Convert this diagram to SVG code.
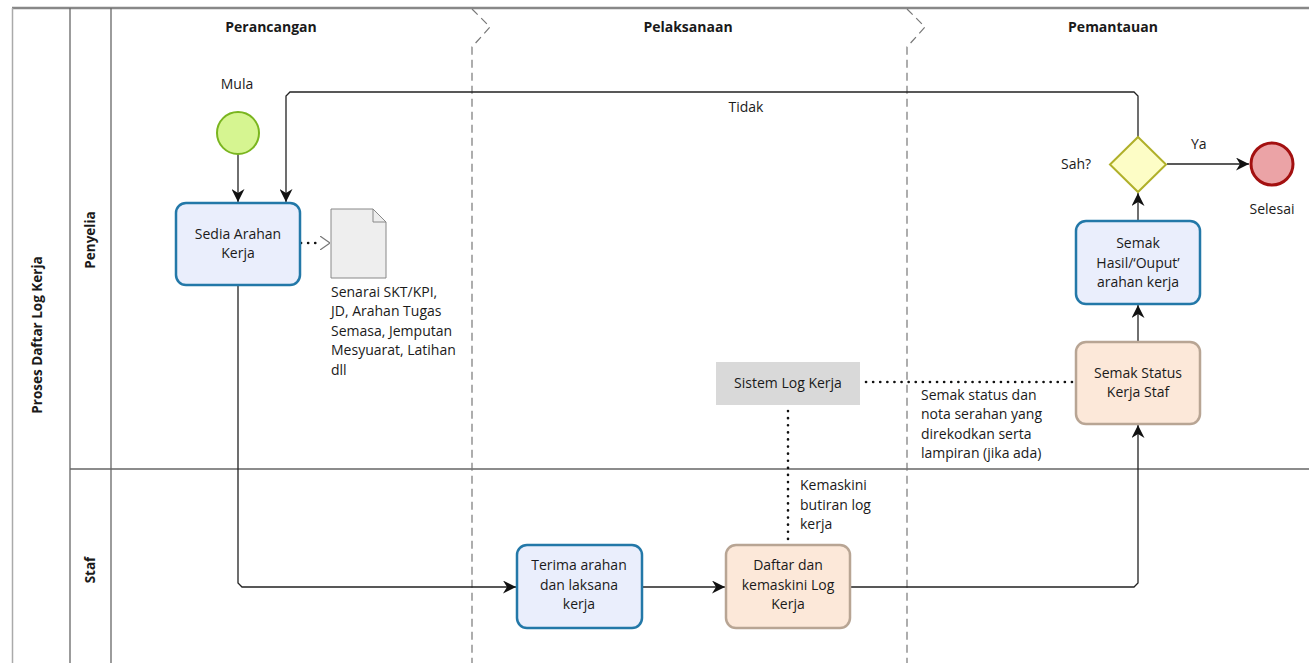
<svg xmlns="http://www.w3.org/2000/svg" width="1309" height="663" viewBox="0 0 1309 663">
<style>
text{font-family:"Open Sans","Noto Sans","Liberation Sans",sans-serif;font-size:14px;fill:#1a1a1a}
.hdr{font-weight:bold;font-size:14px}
.lane{font-weight:bold;font-size:13.5px}
.ctr{text-anchor:middle}
.blue{fill:#eaeefc;stroke:#2378a8;stroke-width:2.5}
.peach{fill:#fce8d9;stroke:#b8a594;stroke-width:2.5}
.flow{fill:none;stroke:#222;stroke-width:1.3}
.dot{fill:none;stroke:#111;stroke-width:2.6;stroke-dasharray:0.1 7;stroke-linecap:round}
.phase{fill:none;stroke:#777;stroke-width:1.2;stroke-dasharray:8 5}
</style>
<defs>
<marker id="arr" viewBox="0 0 13 13" refX="13" refY="6.5" markerWidth="13" markerHeight="13" markerUnits="userSpaceOnUse" orient="auto">
<path d="M0,0 L13,6.5 L0,13 L4,6.5 z" fill="#111"/>
</marker>
<marker id="open" viewBox="0 0 10 14" refX="10" refY="7" markerWidth="10" markerHeight="14" markerUnits="userSpaceOnUse" orient="auto">
<path d="M0,0 L10,7 L0,14" fill="none" stroke="#777" stroke-width="1.2"/>
</marker>
</defs>
<rect width="1309" height="663" fill="#fff"/>
<g id="pool">
<line x1="12" y1="8" x2="1309" y2="8" stroke="#888" stroke-width="2.5"/>
<line x1="12.5" y1="8" x2="12.5" y2="663" stroke="#aaa" stroke-width="1.5"/>
<line x1="70" y1="8" x2="70" y2="663" stroke="#666" stroke-width="1.3"/>
<line x1="111" y1="8" x2="111" y2="663" stroke="#666" stroke-width="1.3"/>
<line x1="70" y1="469" x2="1309" y2="469" stroke="#666" stroke-width="1.3"/>
<text class="lane ctr" transform="translate(42,335) rotate(-90)">Proses Daftar Log Kerja</text>
<text class="lane ctr" transform="translate(95,240) rotate(-90)">Penyelia</text>
<text class="lane ctr" transform="translate(95,570) rotate(-90)">Staf</text>
<path class="phase" d="M472,9 L490,27 L472,47 L472,663"/>
<path class="phase" d="M907,9 L925,27 L907,47 L907,663"/>
<text class="hdr ctr" x="271" y="32">Perancangan</text>
<text class="hdr ctr" x="688" y="32">Pelaksanaan</text>
<text class="hdr ctr" x="1113" y="32">Pemantauan</text>
</g>
<g id="connectors">
<line class="flow" x1="238" y1="154" x2="238" y2="202" marker-end="url(#arr)"/>
<path class="flow" d="M1138,137 L1138,96 L1134,92 L290,92 L286,96 L286,202" marker-end="url(#arr)"/>
<text class="ctr" x="746" y="112">Tidak</text>
<path class="dot" d="M301,243 L322,243"/>
<line x1="322" y1="243" x2="330" y2="243" stroke="none" marker-end="url(#open)"/>
<path class="flow" d="M238,285 L238,583 L242,587 L516,587" marker-end="url(#arr)"/>
<line class="flow" x1="642" y1="587" x2="725" y2="587" marker-end="url(#arr)"/>
<path class="flow" d="M850,587 L1134,587 L1138,583 L1138,425" marker-end="url(#arr)"/>
<line class="flow" x1="1138" y1="342" x2="1138" y2="305" marker-end="url(#arr)"/>
<line class="flow" x1="1138" y1="221" x2="1138" y2="193" marker-end="url(#arr)"/>
<line class="flow" x1="1167" y1="164" x2="1249" y2="164" marker-end="url(#arr)"/>
<text x="1191" y="149">Ya</text>
<path class="dot" d="M866,382 L1072,382"/>
<path class="dot" d="M788,411 L788,542"/>
<text x="921" y="400">Semak status dan</text>
<text x="921" y="419">nota serahan yang</text>
<text x="921" y="439">direkodkan serta</text>
<text x="921" y="458">lampiran  (jika ada)</text>
<text x="800" y="490">Kemaskini</text>
<text x="800" y="510">butiran log</text>
<text x="800" y="529">kerja</text>
</g>
<g id="start">
<circle cx="238" cy="133" r="21" fill="#d6f591" stroke="#7ab51f" stroke-width="2"/>
<text class="ctr" x="237" y="89">Mula</text>
</g>
<g id="sedia">
<rect class="blue" x="176" y="203" width="124" height="82" rx="10"/>
<text class="ctr" x="238" y="239">Sedia Arahan</text>
<text class="ctr" x="238" y="258">Kerja</text>
</g>
<g id="document">
<path d="M331,209 L373,209 L386,222 L386,278 L331,278 Z" fill="#eeeeee" stroke="#888" stroke-width="1"/>
<path d="M373,209 L373,222 L386,222" fill="none" stroke="#888" stroke-width="1"/>
<text x="331" y="297">Senarai SKT/KPI,</text>
<text x="331" y="316">JD, Arahan Tugas</text>
<text x="331" y="336">Semasa, Jemputan</text>
<text x="331" y="355">Mesyuarat, Latihan</text>
<text x="331" y="375">dll</text>
</g>
<g id="terima">
<rect class="blue" x="517" y="545" width="125" height="83" rx="10"/>
<text class="ctr" x="579" y="570">Terima arahan</text>
<text class="ctr" x="579" y="590">dan laksana</text>
<text class="ctr" x="579" y="609">kerja</text>
</g>
<g id="daftar">
<rect class="peach" x="726" y="545" width="124" height="83" rx="10"/>
<text class="ctr" x="788" y="570">Daftar dan</text>
<text class="ctr" x="788" y="590">kemaskini Log</text>
<text class="ctr" x="788" y="609">Kerja</text>
</g>
<g id="sistem">
<rect x="716" y="362" width="144" height="43" fill="#d9d9d9"/>
<text class="ctr" x="788" y="388">Sistem Log Kerja</text>
</g>
<g id="semakstatus">
<rect class="peach" x="1076" y="342" width="124" height="82" rx="10"/>
<text class="ctr" x="1138" y="378">Semak Status</text>
<text class="ctr" x="1138" y="397">Kerja Staf</text>
</g>
<g id="semakhasil">
<rect class="blue" x="1076" y="221" width="124" height="83" rx="10"/>
<text class="ctr" x="1138" y="248">Semak</text>
<text class="ctr" x="1138" y="268">Hasil/‘Ouput’</text>
<text class="ctr" x="1138" y="287">arahan kerja</text>
</g>
<g id="gateway">
<path d="M1138,137 L1166,164.5 L1138,192 L1110,164.5 Z" fill="#fdfdc6" stroke="#b0b02a" stroke-width="2"/>
<text x="1061" y="169">Sah?</text>
</g>
<g id="end">
<circle cx="1272" cy="164" r="21" fill="#eba3a6" stroke="#a31010" stroke-width="3"/>
<text class="ctr" x="1272" y="214">Selesai</text>
</g>
</svg>
